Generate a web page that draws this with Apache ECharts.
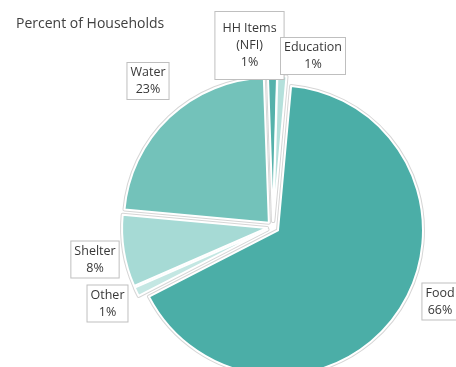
<!DOCTYPE html>
<html>
<head>
<meta charset="utf-8">
<script src="https://cdn.jsdelivr.net/npm/echarts@6/dist/echarts.min.js"></script>
<style>html,body{margin:0;padding:0;background:#fff;}#c{width:456px;height:367px;}</style>
</head>
<body>
<div id="c"></div>
<script>
const categories = ['HH Items (NFI)', 'Education', 'Food', 'Other', 'Shelter', 'Water'];
const values = [1, 1, 66, 1, 8, 23];
const colors = ['#55B2AB', '#B4E0DB', '#4BAEA7', '#C4E7E3', '#A6DAD5', '#73C2BA'];
const titleText = 'Percent of Households';
// label box centres (layout only)
const labelPos = [[249.5, 45.5], [313, 56], [440, 301.5], [107.5, 303.5], [95, 259.5], [148, 81]];
const labelPad = [[8, 7], [1, 3], [1, 3], [1, 3], [1, 3], [1, 3]];

const START = 92, OFFSET = 6;
const total = values.reduce((a, b) => a + b, 0);
const midAngles = [];
(function () {
  let cum = 0;
  values.forEach(v => { midAngles.push((-(START - 90) + 360 * (cum + v / 2) / total) * Math.PI / 180); cum += v; });
})();

const chart = echarts.init(document.getElementById('c'), null, {renderer: 'canvas'});
function mkData(withLabel) {
  return categories.map((n, i) => ({
    name: n, value: values[i], selected: true,
    itemStyle: {color: colors[i]},
    label: withLabel ? {padding: labelPad[i]} : undefined
  }));
}
const common = {
  type: 'pie', center: [273, 227], radius: [0, 145], startAngle: START, clockwise: true,
  selectedMode: 'multiple', selectedOffset: OFFSET, avoidLabelOverlap: false,
  animation: false, labelLine: {show: false}, emphasis: {disabled: true}
};
chart.setOption({
  animation: false,
  title: {text: titleText, left: 16, top: 17, padding: 0,
    textStyle: {fontFamily: 'Open Sans', fontSize: 14, fontWeight: 'normal', color: '#404040'}},
  series: [
    Object.assign({}, common, {
      silent: true, z: 1,
      data: mkData(false),
      label: {show: false},
      itemStyle: {borderColor: '#d6d6d6', borderWidth: 4},
      select: {itemStyle: {borderColor: '#d6d6d6', borderWidth: 4}}
    }),
    Object.assign({}, common, {
      z: 2,
      data: mkData(true),
      itemStyle: {borderColor: '#ffffff', borderWidth: 2},
      select: {itemStyle: {borderColor: '#ffffff', borderWidth: 2}},
      label: {
        show: true, position: 'outside',
        formatter: p => p.name.replace(' (', '\n(').concat('\n' + p.value + '%')
          .split('\n').map(s => '{t|' + s + '}').join('\n'),
        rich: {t: {align: 'center', fontFamily: 'Open Sans', fontSize: 12.5, lineHeight: 17, color: '#383838'}},
        fontFamily: 'Open Sans', fontSize: 12.5, lineHeight: 17, color: '#383838',
        backgroundColor: '#ffffff', borderColor: '#bfbfbf', borderWidth: 1
      },
      labelLayout: function (params) {
        const i = params.dataIndex;
        const p = labelPos[i];
        const r = params.labelRect;
        const ox = OFFSET * Math.sin(midAngles[i]);
        const oy = -OFFSET * Math.cos(midAngles[i]);
        return {dx: p[0] - (r.x + r.width / 2) - ox, dy: p[1] - (r.y + r.height / 2) - oy, hideOverlap: false};
      }
    })
  ]
});
</script>
</body>
</html>
